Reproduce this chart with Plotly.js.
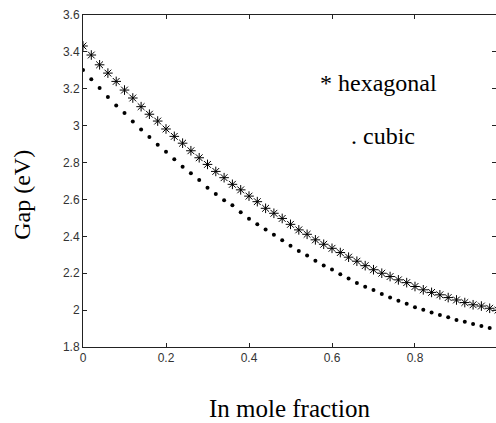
<!DOCTYPE html>
<html>
<head>
<meta charset="utf-8">
<script src="https://cdn.plot.ly/plotly-3.0.1.min.js"></script>
<style>
html,body{margin:0;padding:0;overflow:hidden;background:#fff;}
#chart{width:496px;height:423px;}
</style>
</head>
<body>
<div id="chart"></div>
<script>
const inFraction = [0,0.02,0.04,0.06,0.08,0.10,0.12,0.14,0.16,0.18,0.20,0.22,0.24,0.26,0.28,0.30,0.32,0.34,0.36,0.38,0.40,0.42,0.44,0.46,0.48,0.50,0.52,0.54,0.56,0.58,0.60,0.62,0.64,0.66,0.68,0.70,0.72,0.74,0.76,0.78,0.80,0.82,0.84,0.86,0.88,0.90,0.92,0.94,0.96,0.98,1.00];
const gapHexagonal = [3.432,3.383,3.330,3.285,3.240,3.193,3.150,3.103,3.062,3.025,2.982,2.942,2.905,2.864,2.826,2.790,2.752,2.718,2.682,2.652,2.618,2.588,2.552,2.525,2.497,2.465,2.435,2.411,2.381,2.357,2.335,2.312,2.287,2.265,2.241,2.219,2.200,2.182,2.164,2.149,2.128,2.110,2.096,2.083,2.068,2.055,2.041,2.029,2.022,2.010,2.000];
const gapCubic = [3.302,3.252,3.204,3.156,3.110,3.068,3.022,2.979,2.938,2.897,2.858,2.818,2.777,2.742,2.706,2.663,2.630,2.595,2.568,2.530,2.495,2.465,2.437,2.408,2.379,2.349,2.320,2.296,2.267,2.242,2.220,2.194,2.171,2.147,2.127,2.109,2.087,2.069,2.051,2.034,2.016,2.002,1.987,1.973,1.961,1.947,1.937,1.925,1.914,1.903,1.895];
const xTicks = [0,0.2,0.4,0.6,0.8];
const xTickLabels = ["0","0.2","0.4","0.6","0.8"];
const yTicks = [1.8,2,2.2,2.4,2.6,2.8,3,3.2,3.4,3.6];
const yTickLabels = ["1.8","2","2.2","2.4","2.6","2.8","3","3.2","3.4","3.6"];

const serif = "Liberation Serif, Times New Roman, serif";
const sans = "Liberation Sans, Arial, sans-serif";

const traces = [
  {x: inFraction, y: gapHexagonal, mode: "markers", type: "scatter", name: "hexagonal",
   marker: {symbol: "asterisk-open", size: 8, color: "#000", line: {color: "#000", width: 1}}},
  {x: inFraction, y: gapCubic, mode: "markers", type: "scatter", name: "cubic",
   marker: {symbol: "circle", size: 4, color: "#000", line: {width: 0}}},
  {x: [], y: [], mode: "markers", type: "scatter", yaxis: "y2", hoverinfo: "skip", showlegend: false}
];

const tickStyle = {
  showgrid: false, zeroline: false, ticks: "inside", ticklen: 4, tickcolor: "#222", tickwidth: 1,
  tickfont: {family: sans, size: 12, color: "#333"}, tickmode: "array"
};

const layout = {
  width: 496, height: 423,
  margin: {l: 83, r: 0, t: 15, b: 76},
  paper_bgcolor: "#fff", plot_bgcolor: "#fff",
  showlegend: false,
  xaxis: Object.assign({}, tickStyle, {
    showline: true, linecolor: "#222", linewidth: 1, mirror: "ticks",
    range: [0, 0.9952], tickvals: xTicks, ticktext: xTickLabels,
    title: {text: "In mole fraction", font: {family: serif, size: 25, color: "#000"}, standoff: 35}
  }),
  yaxis: Object.assign({}, tickStyle, {
    showline: true, linecolor: "#222", linewidth: 1, mirror: false,
    range: [1.8, 3.6], tickvals: yTicks, ticktext: yTickLabels
  }),
  yaxis2: Object.assign({}, tickStyle, {
    overlaying: "y", side: "right", showline: false, showticklabels: false,
    range: [1.8, 3.6], tickvals: yTicks
  }),
  annotations: [
    {text: "Gap (eV)", xref: "paper", yref: "paper", x: -0.148, y: 0.458, textangle: -90,
     showarrow: false, font: {family: serif, size: 24, color: "#000"}, xanchor: "center", yanchor: "middle"},
    {text: "* hexagonal", xref: "x", yref: "y", x: 0.712, y: 3.231, showarrow: false,
     font: {family: serif, size: 24, color: "#000"}, xanchor: "center", yanchor: "middle"},
    {text: ". cubic", xref: "x", yref: "y", x: 0.724, y: 2.944, showarrow: false,
     font: {family: serif, size: 24, color: "#000"}, xanchor: "center", yanchor: "middle"}
  ]
};

Plotly.newPlot("chart", traces, layout, {displayModeBar: false, staticPlot: true});
</script>
</body>
</html>
